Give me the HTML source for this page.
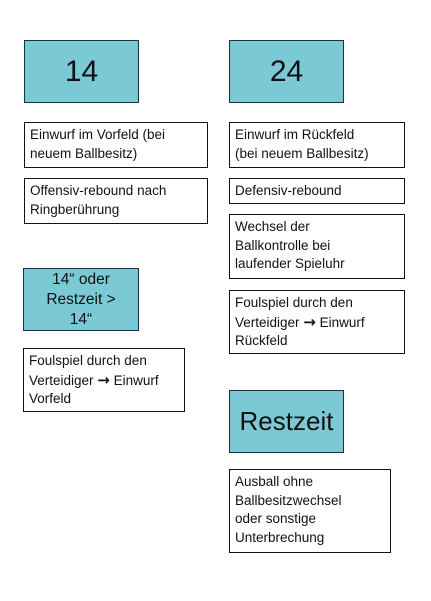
<!DOCTYPE html>
<html><head><meta charset="utf-8"><style>
body{margin:0;width:431px;height:601px;background:#fff;position:relative;overflow:hidden;font-family:"Liberation Sans",sans-serif;color:#111}
.b{position:absolute;box-sizing:border-box;border:1.3px solid #111;background:#fff;font-size:13.5px;line-height:18.5px;padding:3px 0 0 5px}
.t{position:absolute;box-sizing:border-box;border:1.3px solid #1a3344;background:#7AC9D5;display:flex;align-items:center;justify-content:center;text-align:center}
.big{font-size:30px}
.mid{font-size:15.5px;line-height:20px}
.ar{font-weight:bold;font-size:15px;font-family:"DejaVu Sans",sans-serif}
</style></head><body>
<div class="t big" style="left:24px;top:40px;width:115px;height:63px">14</div>
<div class="t big" style="left:229px;top:40px;width:115px;height:63px">24</div>
<div class="b" style="left:24px;top:122px;width:184px;height:46px">Einwurf im Vorfeld (bei<br>neuem Ballbesitz)</div>
<div class="b" style="left:24px;top:178px;width:184px;height:46px">Offensiv-rebound nach<br>Ringberührung</div>
<div class="t mid" style="left:23px;top:268px;width:116px;height:63px">14“ oder<br>Restzeit &gt;<br>14“</div>
<div class="b" style="left:23px;top:348px;width:162px;height:64px">Foulspiel durch den<br>Verteidiger <span class="ar">→</span> Einwurf<br>Vorfeld</div>
<div class="b" style="left:229px;top:122px;width:176px;height:46px">Einwurf im Rückfeld<br>(bei neuem Ballbesitz)</div>
<div class="b" style="left:229px;top:178px;width:176px;height:26px">Defensiv-rebound</div>
<div class="b" style="left:229px;top:214px;width:176px;height:65px">Wechsel der<br>Ballkontrolle bei<br>laufender Spieluhr</div>
<div class="b" style="left:229px;top:290px;width:176px;height:64px">Foulspiel durch den<br>Verteidiger <span class="ar">→</span> Einwurf<br>Rückfeld</div>
<div class="t" style="left:229px;top:390px;width:115px;height:63px;font-size:26px">Restzeit</div>
<div class="b" style="left:229px;top:469px;width:162px;height:84px">Ausball ohne<br>Ballbesitzwechsel<br>oder sonstige<br>Unterbrechung</div>
</body></html>
